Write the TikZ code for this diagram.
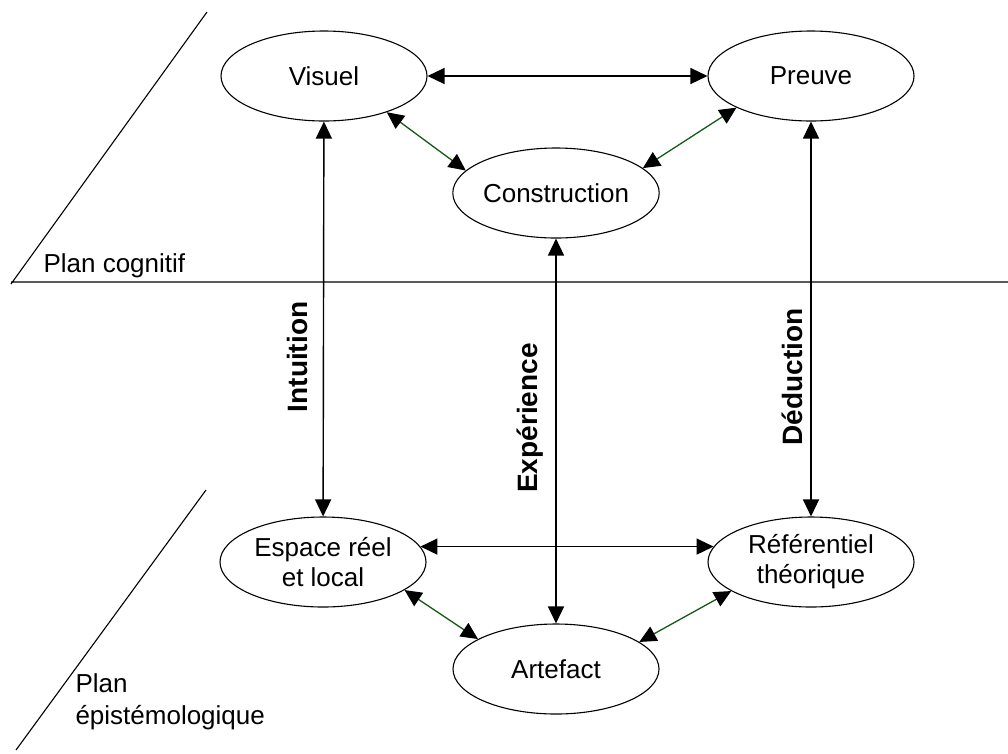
\documentclass[tikz,border=0pt]{standalone}
\usepackage{fontspec}
\setmainfont{Liberation Sans}
\usetikzlibrary{arrows.meta,shapes.geometric}
\definecolor{darkgr}{RGB}{20,90,20}
\begin{document}
\begin{tikzpicture}[x=1pt,y=-1pt,line join=round,
	>={Triangle[length=17pt,width=16pt]},
	bulle/.style={draw,ellipse,line width=1.1pt,minimum width=206pt,minimum height=90pt,inner sep=0pt,align=center,font=\fontsize{26}{30}\selectfont},
	lien/.style={<->,line width=1.4pt},
	liendiag/.style={{Triangle[length=17pt,width=16pt,black]}-{Triangle[length=17pt,width=16pt,black]},line width=1.3pt,darkgr},
	etiq/.style={font=\bfseries\fontsize{28}{32}\selectfont,rotate=90}]
	\useasboundingbox (0,0) rectangle (1008,753);
	\draw[line width=1.1pt] (207,12)--(11,284) (11,282)--(1008,282);
	\draw[line width=1.1pt] (206,490)--(16,750);
	\node[anchor=base west,font=\fontsize{26}{30}\selectfont] (plancog) at (40,272) {Plan cognitif};
	\node[anchor=base west,align=left,font=\fontsize{26}{32}\selectfont] (planepi) at (72,724) {Plan\\épistémologique};
	\node[bulle] (visuel) at (324,76) {Visuel};
	\node[bulle] (preuve) at (811,76) {Preuve};
	\node[bulle] (constr) at (556,193) {Construction};
	\node[bulle] (espace) at (323,562) {Espace réel\\et local};
	\node[bulle] (refer) at (811,562) {Référentiel\\théorique};
	\node[bulle] (artef) at (556,669) {Artefact};
	\draw[lien] (visuel) -- (preuve);
	\draw[lien] (visuel) -- (espace);
	\draw[lien] (preuve) -- (refer);
	\draw[lien] (constr) -- (artef);
	\draw[lien] (espace.9) -- (refer.171);
	\draw[liendiag] (visuel.-30) -- (constr.166);
	\draw[liendiag] (preuve.203) -- (constr.16);
	\draw[liendiag] (espace.-19) -- (artef.159);
	\draw[liendiag] (refer.200) -- (artef.18);
	\node[etiq] (intuit) at (297,357) {Intuition};
	\node[etiq] (exper) at (530,418) {Expérience};
	\node[etiq] (deduc) at (792,377) {Déduction};
\end{tikzpicture}
\end{document}
